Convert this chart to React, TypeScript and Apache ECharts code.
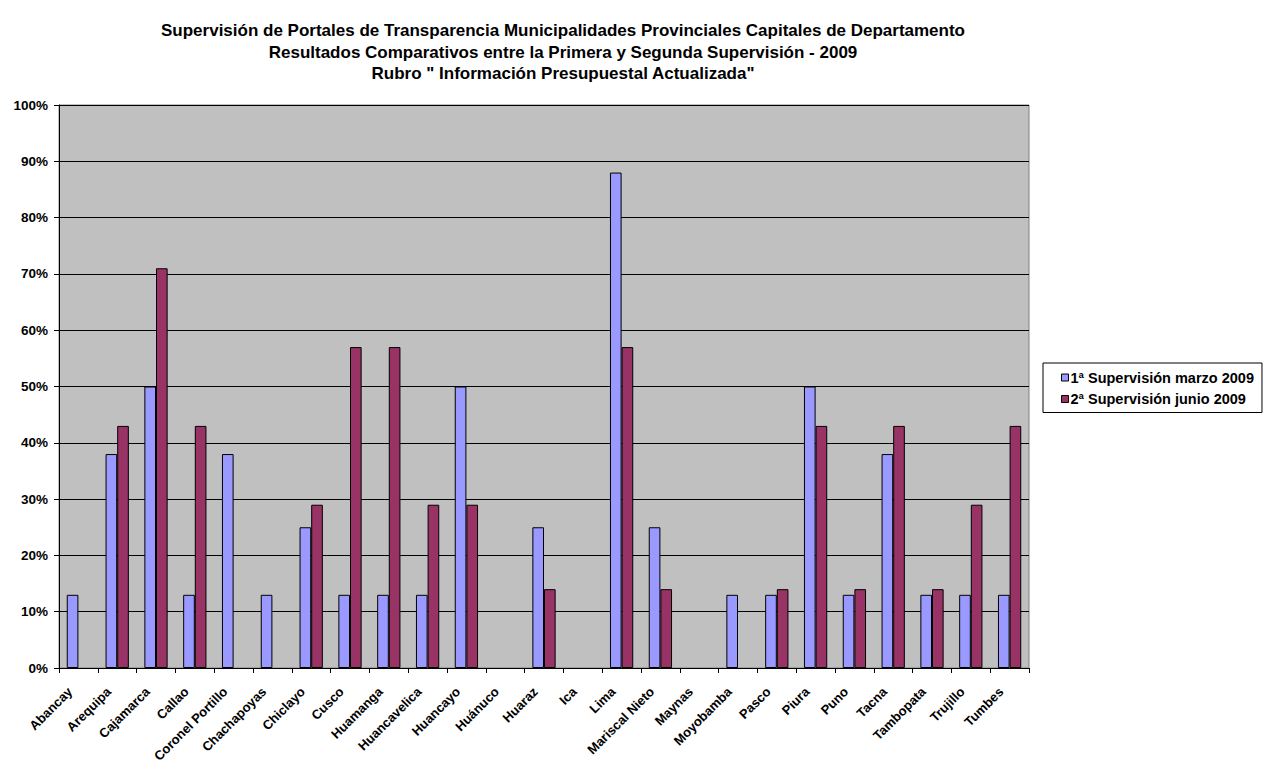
import React, { useEffect, useRef } from "react";
import * as echarts from "echarts";

const categories = [
  "Abancay", "Arequipa", "Cajamarca", "Callao", "Coronel Portillo", "Chachapoyas",
  "Chiclayo", "Cusco", "Huamanga", "Huancavelica", "Huancayo", "Huánuco", "Huaraz",
  "Ica", "Lima", "Mariscal Nieto", "Maynas", "Moyobamba", "Pasco", "Piura", "Puno",
  "Tacna", "Tambopata", "Trujillo", "Tumbes",
];
const seriesNames = ["1ª Supervisión marzo 2009", "2ª Supervisión junio 2009"];
const primera = [13, 38, 50, 13, 38, 13, 25, 13, 13, 13, 50, null, 25, null, 88, 25, null, 13, 13, 50, 13, 38, 13, 13, 13];
const segunda = [null, 43, 71, 43, null, null, 29, 57, 57, 29, 29, null, 14, null, 57, 14, null, null, 14, 43, 14, 43, 14, 29, 43];
const titleLines = [
  "Supervisión de Portales de Transparencia Municipalidades Provinciales Capitales de Departamento",
  "Resultados Comparativos entre la Primera y Segunda Supervisión - 2009",
  "Rubro \" Información Presupuestal Actualizada\"",
];

const FONT = "'Liberation Sans', Arial, sans-serif";

export default function App() {
  const ref = useRef<HTMLDivElement>(null);
  useEffect(() => {
    if (!ref.current) return;
    const chart = echarts.init(ref.current, undefined, { renderer: "svg" });
    chart.setOption({
      animation: false,
      backgroundColor: "#ffffff",
      title: {
        text: titleLines.join("\n"),
        left: 558,
        top: 15,
        textAlign: "center",
        textStyle: { fontFamily: FONT, fontWeight: "bold", fontSize: 17, lineHeight: 21.5, color: "#000" },
      },
      legend: {
        orient: "vertical",
        left: 1043,
        top: 363,
        padding: [6, 8, 5, 18],
        itemWidth: 7,
        itemHeight: 7,
        itemGap: 4.5,
        borderColor: "#000",
        borderWidth: 1,
        backgroundColor: "#fff",
        textStyle: { fontFamily: FONT, fontWeight: "bold", fontSize: 14.5, lineHeight: 17, color: "#000", padding: [0, 0, 0, -3] },
        itemStyle: { borderColor: "#000", borderWidth: 1 },
        data: seriesNames.map((n) => ({ name: n, icon: "rect" })),
      },
      grid: {
        left: 59, right: 235, top: 105, bottom: 95,
        outerBoundsMode: "none",
        containLabel: false,
        show: true, backgroundColor: "#C0C0C0", borderColor: "#808080", borderWidth: 1,
      },
      xAxis: {
        type: "category",
        data: categories,
        axisLine: { lineStyle: { color: "#000", width: 1 } },
        axisTick: { show: true, alignWithLabel: false, length: 5, lineStyle: { color: "#000" } },
        axisLabel: { rotate: 45, interval: 0, fontFamily: FONT, fontWeight: "bold", fontSize: 13, color: "#000", margin: 13, padding: [0, 12, 0, 0] },
      },
      yAxis: {
        type: "value",
        min: 0,
        max: 100,
        interval: 10,
        axisLine: { show: true, lineStyle: { color: "#000", width: 1 } },
        axisTick: { show: true, length: 5, lineStyle: { color: "#000" } },
        splitLine: { show: true, lineStyle: { color: "#000", width: 1 } },
        axisLabel: { formatter: "{value}%", fontFamily: FONT, fontWeight: "bold", fontSize: 13.5, color: "#000", margin: 11 },
      },
      series: [
        {
          name: seriesNames[0],
          type: "bar",
          data: primera,
          barGap: "0%",
          barCategoryGap: "40%",
          itemStyle: { color: "#9999FF", borderColor: "#000", borderWidth: 1 },
        },
        {
          name: seriesNames[1],
          type: "bar",
          data: segunda,
          barGap: "0%",
          barCategoryGap: "40%",
          itemStyle: { color: "#993366", borderColor: "#000", borderWidth: 1 },
        },
      ],
    });
    return () => chart.dispose();
  }, []);
  return <div ref={ref} style={{ width: 1264, height: 763, position: "absolute", left: 0, top: 0 }} />;
}
